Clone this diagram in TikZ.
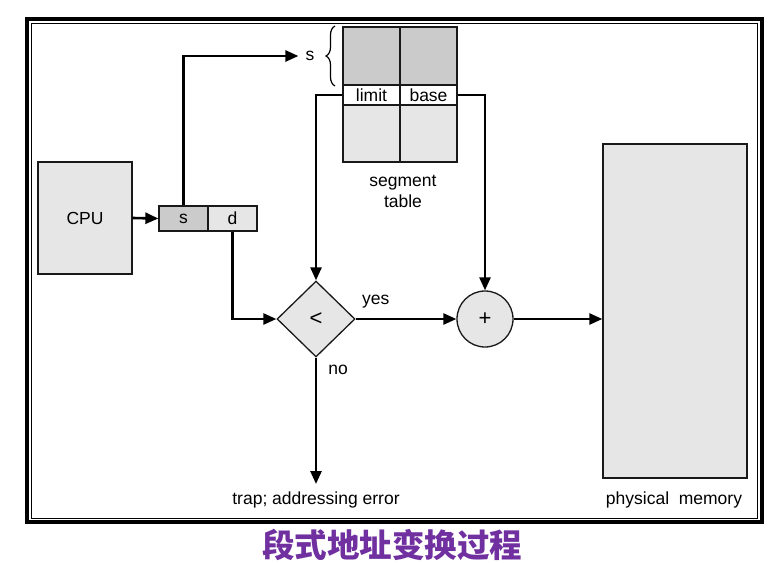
\documentclass[tikz,border=0pt]{standalone}
\usepackage{fontspec}
\setmainfont{Liberation Sans}
\newfontfamily\cjk{Noto Sans CJK SC}
\usetikzlibrary{shapes.geometric,arrows.meta,decorations.pathreplacing}
\definecolor{cellgray}{HTML}{E6E6E6}
\definecolor{darkcell}{HTML}{CBCBCB}
\definecolor{titlepurple}{HTML}{7030A0}
\begin{document}
\begin{tikzpicture}[x=1pt,y=-1pt,
  font=\fontsize{17.5}{20}\selectfont,
  box/.style={draw=black!90,line width=1.3pt,fill=cellgray,inner sep=0pt},
  cell/.style={box,minimum width=57pt},
  conn/.style={line width=2.6pt,-{Triangle[length=13pt,width=11pt]}},
  lbl/.style={inner sep=0pt},
  op/.style={font=\fontsize{22}{24}\selectfont}]
\useasboundingbox (0,0) rectangle (770,562);

% frame
\draw[line width=4pt] (27,19) rectangle (761.5,522);
\draw[line width=1pt] (31.5,23) rectangle (757,518);

% segment table
\node[cell,fill=darkcell,minimum height=58pt] (t1) at (371.5,56) {};
\node[cell,fill=darkcell,minimum height=58pt] (t2) at (428.5,56) {};
\node[cell,fill=white,minimum height=20pt] (limit) at (371.5,95) {limit};
\node[cell,fill=white,minimum height=20pt] (base) at (428.5,95) {base};
\node[cell,minimum height=57pt] (t3) at (371.5,133.5) {};
\node[cell,minimum height=57pt] (t4) at (428.5,133.5) {};
\node[lbl,align=center] (segtab) at (403,191) {segment\\[1pt]table};

% selected entry
\draw[line width=1.2pt,decorate,decoration={brace,amplitude=9pt}]
  (335,86) -- (335,26);
\node[lbl] (slabel) at (310,56) {s};

% CPU and logical address
\node[box,minimum width=94pt,minimum height=112pt] (cpu) at (85,218) {CPU};
\node[box,fill=darkcell,minimum width=49pt,minimum height=25pt] (sfield) at (183.5,218.5) {s};
\node[box,minimum width=49pt,minimum height=25pt] (dfield) at (232.5,218.5) {d};

% comparison and addition
\node[box,op,diamond,minimum width=78pt,minimum height=76pt] (cmp) at (316,319) {<};
\node[box,op,circle,minimum size=56pt] (add) at (485,319) {+};

% physical memory
\node[box,minimum width=144pt,minimum height=334pt] (mem) at (675,311) {};
\node[lbl] (memlbl) at (674,500) {physical\ \ memory};

% trap
\coordinate (trapend) at (316,484);
\node[lbl] (traplbl) at (316,500) {trap; addressing error};

% connectors
\draw[conn] (cpu.east) -- (sfield.west);
\draw[conn] (sfield.north) |- ([xshift=-7pt]slabel.west);
\draw[conn] (dfield.south) |- (cmp.west);
\draw[conn] (limit.west) -| (cmp.north);
\draw[conn] (base.east) -| (add.north);
\draw[conn] (cmp.east) -- node[lbl,pos=0.2,yshift=17pt] (yes) {yes} (add.west);
\draw[conn] (cmp.south) -- node[lbl,pos=0.1,xshift=22pt] (no) {no} (trapend);
\draw[conn] (add.east) -- (add.east -| mem.west);

% caption
\node[lbl,text=titlepurple,font=\cjk\bfseries\fontsize{32.5}{34}\selectfont] (title) at (392,545) {段式地址变换过程};
\end{tikzpicture}
\end{document}
